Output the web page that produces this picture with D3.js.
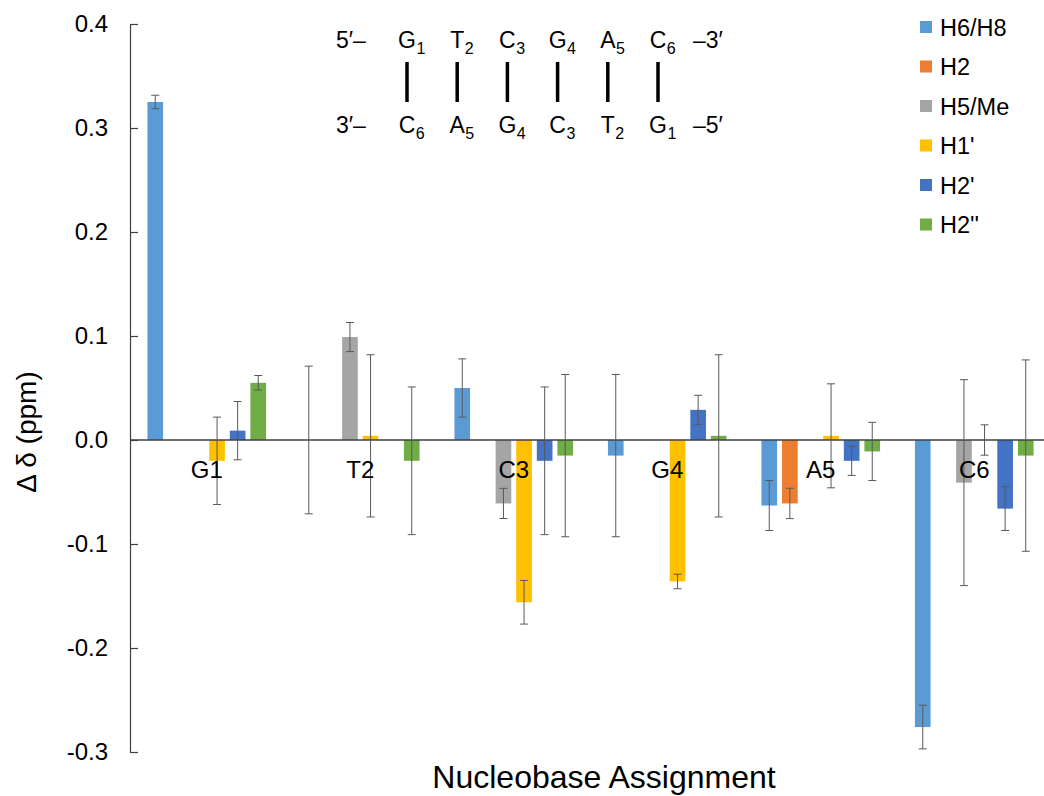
<!DOCTYPE html>
<html>
<head>
<meta charset="utf-8">
<script src="https://cdn.jsdelivr.net/npm/d3@7"></script>
<style>
  body { margin: 0; background: #fff; }
  text { font-family: "Liberation Sans", Arial, sans-serif; fill: #000; }
</style>
</head>
<body>
<script>
const categories = ["G1", "T2", "C3", "G4", "A5", "C6"];
const seriesNames = ["H6/H8", "H2", "H5/Me", "H1'", "H2'", "H2''"];
const colors = ["#5b9bd5", "#ed7d31", "#a5a5a5", "#ffc000", "#4472c4", "#70ad47"];

// values per series, one per category (null = no data)
const h6h8 = [0.325, 0, 0.05, -0.015, -0.063, -0.276];
const h2 = [null, null, null, null, -0.061, null];
const h5me = [null, 0.099, -0.061, null, null, -0.041];
const h1p = [-0.02, 0.004, -0.156, -0.136, 0.004, 0];
const h2p = [0.009, null, -0.02, 0.029, -0.02, -0.066];
const h2pp = [0.055, -0.02, -0.015, 0.004, -0.011, -0.015];

const h6h8Err = [0.0065, 0.071, 0.028, 0.078, 0.024, 0.021];
const h2Err = [null, null, null, null, 0.0146, null];
const h5meErr = [null, 0.014, 0.0145, null, null, 0.099];
const h1pErr = [0.042, 0.078, 0.021, 0.007, 0.05, 0.0146];
const h2pErr = [0.028, null, 0.071, 0.014, 0.014, 0.021];
const h2ppErr = [0.007, 0.071, 0.078, 0.078, 0.028, 0.092];

const yTicks = [-0.3, -0.2, -0.1, 0, 0.1, 0.2, 0.3, 0.4];

// duplex drawn above the bars
const topStrand = ["G", "T", "C", "G", "A", "C"];
const topNum = ["1", "2", "3", "4", "5", "6"];
const bottomStrand = ["C", "A", "G", "C", "T", "G"];
const bottomNum = ["6", "5", "4", "3", "2", "1"];

const allValues = [h6h8, h2, h5me, h1p, h2p, h2pp];
const allErrors = [h6h8Err, h2Err, h5meErr, h1pErr, h2pErr, h2ppErr];

const w = 1044;
const h = 796;

const svg = d3.select("body").append("svg").attr("width", w).attr("height", h);

const y = d3.scaleLinear().domain([-0.3, 0.4]).range([752, 24]);

const x0 = d3
  .scaleBand()
  .domain(categories)
  .range([130, 1051])
  .paddingInner(0.195)
  .paddingOuter(0.0975);

const x1 = d3
  .scaleBand()
  .domain(seriesNames)
  .range([0, x0.bandwidth()])
  .paddingInner(0.24)
  .paddingOuter(0.12);

const bars = [];
seriesNames.forEach((s, si) => {
  categories.forEach((c, ci) => {
    const v = allValues[si][ci];
    if (v === null) return;
    bars.push({ s, c, v, e: allErrors[si][ci], color: colors[si] });
  });
});

// bars
svg
  .selectAll("rect.bar")
  .data(bars)
  .enter()
  .append("rect")
  .attr("class", "bar")
  .attr("x", (d) => x0(d.c) + x1(d.s))
  .attr("y", (d) => y(Math.max(0, d.v)))
  .attr("width", x1.bandwidth())
  .attr("height", (d) => Math.abs(y(d.v) - y(0)))
  .attr("fill", (d) => d.color);

// zero line
svg
  .append("line")
  .attr("x1", 130)
  .attr("x2", 1051)
  .attr("y1", y(0))
  .attr("y2", y(0))
  .attr("stroke", "#404040")
  .attr("stroke-width", 1.3);

// error bars
const eb = svg
  .selectAll("g.err")
  .data(bars.filter((d) => d.e !== null))
  .enter()
  .append("g")
  .attr("stroke", "#595959")
  .attr("stroke-width", 1);
const cx = (d) => x0(d.c) + x1(d.s) + x1.bandwidth() / 2;
eb.append("line")
  .attr("x1", cx)
  .attr("x2", cx)
  .attr("y1", (d) => y(d.v + d.e))
  .attr("y2", (d) => y(d.v - d.e));
eb.append("line")
  .attr("x1", (d) => cx(d) - 4)
  .attr("x2", (d) => cx(d) + 4)
  .attr("y1", (d) => y(d.v + d.e))
  .attr("y2", (d) => y(d.v + d.e));
eb.append("line")
  .attr("x1", (d) => cx(d) - 4)
  .attr("x2", (d) => cx(d) + 4)
  .attr("y1", (d) => y(d.v - d.e))
  .attr("y2", (d) => y(d.v - d.e));

// y axis
const yAxis = svg
  .append("g")
  .attr("transform", "translate(130,0)")
  .call(
    d3
      .axisRight(y)
      .tickValues(yTicks)
      .tickSize(8)
      .tickSizeOuter(0)
      .tickFormat((d) => d.toFixed(1))
  );
yAxis.selectAll("path, line").attr("stroke", "#404040").attr("stroke-width", 1.2);
yAxis
  .selectAll("text")
  .attr("x", -22)
  .attr("text-anchor", "end")
  .attr("font-size", 24)
  .attr("font-family", "Liberation Sans, Arial, sans-serif")
  .attr("fill", "#000");

// category labels below zero line
svg
  .selectAll("text.cat")
  .data(categories)
  .enter()
  .append("text")
  .attr("class", "cat")
  .attr("x", (d) => x0(d) + x0.bandwidth() / 2)
  .attr("y", 478)
  .attr("text-anchor", "middle")
  .attr("font-size", 24)
  .text((d) => d);

// axis titles
svg
  .append("text")
  .attr("x", 604)
  .attr("y", 788)
  .attr("text-anchor", "middle")
  .attr("font-size", 32)
  .text("Nucleobase Assignment");

svg
  .append("text")
  .attr("transform", "translate(36,432) rotate(-90)")
  .attr("text-anchor", "middle")
  .attr("font-size", 28)
  .text("\u0394 \u03b4 (ppm)");

// legend
const legend = svg
  .selectAll("g.legend")
  .data(seriesNames)
  .enter()
  .append("g")
  .attr("transform", (d, i) => `translate(920,${27 + i * 39.5})`);
legend
  .append("rect")
  .attr("x", 0)
  .attr("y", -6)
  .attr("width", 12)
  .attr("height", 12)
  .attr("fill", (d, i) => colors[i]);
legend
  .append("text")
  .attr("x", 20)
  .attr("y", 8.5)
  .attr("font-size", 23.5)
  .text((d) => d);

// duplex annotation
const sx = d3.scalePoint().domain(d3.range(6)).range([407, 658]);

function strand(letters, nums, baseY) {
  letters.forEach((l, i) => {
    const t = svg
      .append("text")
      .attr("x", sx(i))
      .attr("y", baseY)
      .attr("text-anchor", "middle")
      .attr("font-size", 23)
      .text(l);
    const len = t.node().getComputedTextLength();
    svg
      .append("text")
      .attr("x", sx(i) + len / 2 + 0.5)
      .attr("y", baseY + 6)
      .attr("font-size", 16)
      .text(nums[i]);
  });
}
strand(topStrand, topNum, 48);
strand(bottomStrand, bottomNum, 133);

svg.append("text").attr("x", 336).attr("y", 48).attr("font-size", 23).text("5\u2032\u2013");
svg.append("text").attr("x", 336).attr("y", 133).attr("font-size", 23).text("3\u2032\u2013");
svg.append("text").attr("x", 693).attr("y", 48).attr("font-size", 23).text("\u20133\u2032");
svg.append("text").attr("x", 693).attr("y", 133).attr("font-size", 23).text("\u20135\u2032");

svg
  .selectAll("line.pair")
  .data(d3.range(6))
  .enter()
  .append("line")
  .attr("class", "pair")
  .attr("x1", (d) => sx(d))
  .attr("x2", (d) => sx(d))
  .attr("y1", 62)
  .attr("y2", 102)
  .attr("stroke", "#000")
  .attr("stroke-width", 3.5);
</script>
</body>
</html>
